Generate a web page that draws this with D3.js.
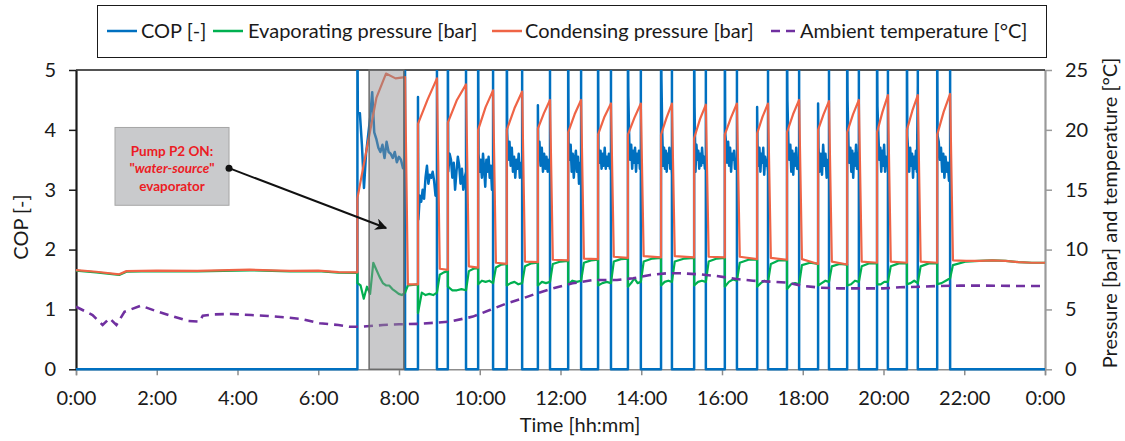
<!DOCTYPE html>
<html>
<head>
<meta charset="utf-8">
<script src="https://cdn.jsdelivr.net/npm/d3@7"></script>
<style>
    body { margin: 0; background: #ffffff; }
    text { font-family: Lato, "Open Sans", sans-serif; fill: #1a1a1a; }
</style>
</head>
<body>
<script>
var hourTicks = [0, 2, 4, 6, 8, 10, 12, 14, 16, 18, 20, 22, 24];
var hourLabels = ["0:00", "2:00", "4:00", "6:00", "8:00", "10:00", "12:00", "14:00", "16:00", "18:00", "20:00", "22:00", "0:00"];
var copTicks = [0, 1, 2, 3, 4, 5];
var pressureTicks = [0, 5, 10, 15, 20, 25];
var seriesNames = ["COP [-]", "Evaporating pressure [bar]", "Condensing pressure [bar]", "Ambient temperature [\u00b0C]"];

// heat pump standing still before the first start
var idleTimes = [0, 0.5, 1.07, 1.25, 2.0, 3.0, 4.3, 5.3, 6.0, 6.5, 6.97];
var idleCond = [8.29, 8.15, 7.93, 8.2, 8.25, 8.22, 8.32, 8.22, 8.25, 8.12, 8.1];
var idleEvap = [8.25, 8.1, 7.88, 8.15, 8.2, 8.18, 8.27, 8.18, 8.2, 8.08, 8.06];

// compressor runs [h]
var runStart = [6.97, 8.47, 9.21, 9.96, 10.67, 11.44, 12.19, 12.93, 13.67, 14.49, 15.31, 16.07, 16.87, 17.61, 18.38, 19.10, 19.84, 20.58, 21.33];
var runStop = [8.15, 8.94, 9.66, 10.33, 11.05, 11.74, 12.51, 13.25, 13.99, 14.76, 15.60, 16.37, 17.14, 17.91, 18.65, 19.39, 20.11, 20.85, 21.65];
// COP reached in the start transient (above 5 is off the chart)
var startPeak = [5.8, 4.55, 5.8, 5.8, 5.8, 4.41, 5.8, 5.8, 5.8, 5.8, 5.8, 5.8, 4.38, 5.8, 4.44, 5.8, 5.8, 5.8, 5.8];

// readings along each run (spread over the run)
var condRun = [
    [14.3, 18.5, 22.7, 24.7, 24.3, 24.4],
    [20.5, 22.5, 24.3], [20.6, 22.5, 23.8], [20.0, 21.9, 23.3], [20.0, 21.8, 23.2],
    [20.1, 21.4, 22.5], [19.8, 21.3, 22.5], [19.6, 21.1, 22.2], [19.6, 21.0, 22.2],
    [19.6, 21.0, 22.2], [19.3, 20.9, 22.1], [19.6, 21.0, 22.2], [19.7, 21.1, 22.2],
    [19.8, 21.3, 22.5], [20.0, 21.3, 22.4], [19.8, 21.3, 22.5], [19.8, 21.5, 22.9],
    [20.0, 21.6, 22.9], [19.6, 21.5, 23.0]
];
var evapRun = [
    [7.2, 7.0, 5.9, 6.9, 6.3, 8.9, 8.3, 7.7, 7.2, 7.0, 7.0, 6.7, 6.5, 6.3, 6.2, 6.4],
    [4.7, 6.4, 6.2, 6.3, 6.2, 6.4], [6.9, 6.6, 6.6, 6.7, 6.6], [7.1, 7.4, 7.3, 7.4, 7.2],
    [7.0, 7.2, 7.3, 7.1, 7.2], [7.0, 7.3, 7.2, 7.3], [7.1, 7.4, 7.3, 7.4], [7.0, 7.2, 7.3, 7.2],
    [6.9, 7.2, 7.6, 7.2, 7.3], [7.0, 7.3, 7.4, 7.3], [7.0, 7.3, 7.4, 7.3], [6.9, 7.3, 7.5, 7.4],
    [6.9, 7.2, 7.4, 7.3], [6.7, 7.1, 7.2, 7.1], [7.0, 7.2, 7.4, 7.3], [7.0, 7.1, 7.4, 7.3],
    [7.1, 7.1, 7.3, 7.3], [7.1, 7.2, 7.4, 7.2], [7.1, 7.2, 7.4, 7.6]
];
var copRun = [
    [4.3, 4.28, 3.75, 3.03, 3.6, 3.9, 4.2, 4.63, 3.96, 3.85, 3.7, 3.63, 3.75, 3.53, 3.8, 3.63, 3.6, 3.53, 3.63, 3.46, 3.55, 3.5, 3.36, 3.42],
    [2.5, 2.9, 2.8, 3.0, 2.85, 3.2, 3.4, 3.1, 3.25, 3.2, 3.3, 3.15, 2.9, 2.95],
    [3.3, 3.6, 3.5, 3.2, 3.45, 3.0, 3.3, 3.55, 3.4, 3.1, 3.35, 3.0, 3.2, 3.3],
    [3.6, 3.3, 3.5, 3.2, 3.6, 3.35, 3.05, 3.5, 3.3, 3.55, 3.2, 3.4, 3.0, 3.3],
    [3.95, 3.5, 3.8, 3.4, 3.7, 3.3, 3.55, 3.2, 3.5, 3.35, 3.6, 3.2, 3.45, 3.3],
    [3.6, 3.8, 3.4, 3.7, 3.3, 3.6, 3.35, 3.55, 3.3, 3.5, 3.4],
    [3.8, 3.5, 3.75, 3.3, 3.6, 3.2, 3.5, 3.65, 3.3, 3.55, 3.1, 3.45, 3.4],
    [3.7, 3.45, 3.65, 3.35, 3.6, 3.4, 3.7, 3.35, 3.55, 3.4, 3.6, 3.35, 3.5],
    [4.58, 3.8, 3.5, 3.75, 3.35, 3.65, 3.45, 3.7, 3.3, 3.6, 3.45, 3.65, 3.35, 3.55],
    [4.85, 3.9, 3.4, 3.7, 3.35, 3.65, 3.3, 3.6, 3.45, 3.7, 3.35, 3.55, 3.25],
    [4.4, 3.3, 3.75, 3.5, 3.65, 3.35, 3.6, 3.4, 3.7, 3.45, 3.55, 3.35, 3.5],
    [3.95, 3.75, 3.45, 3.8, 3.4, 3.7, 3.3, 3.6, 3.5, 3.65, 3.35, 3.5, 3.45],
    [3.75, 3.4, 3.7, 3.3, 3.6, 3.45, 3.7, 3.25, 3.55, 3.4, 3.5, 3.3],
    [4.5, 3.8, 3.5, 3.75, 3.3, 3.65, 3.25, 3.6, 3.4, 3.7, 3.35, 3.5, 3.3],
    [3.7, 3.3, 3.6, 3.25, 3.75, 3.4, 3.6, 3.2, 3.5, 3.35],
    [4.5, 3.75, 3.45, 3.7, 3.3, 3.65, 3.2, 3.6, 3.4, 3.75, 3.35, 3.5, 3.3],
    [4.4, 3.9, 3.5, 3.7, 3.3, 3.65, 3.4, 3.75, 3.3, 3.55, 3.4, 3.5],
    [3.9, 3.6, 3.3, 3.7, 3.4, 3.6, 3.2, 3.55, 3.35, 3.65, 3.3, 4.75],
    [3.9, 3.8, 3.5, 3.7, 3.3, 3.6, 3.2, 3.55, 3.3, 3.45, 3.15, 3.2]
];

// readings during the stop after each run (last one runs to midnight)
var condRest = [
    [7.1, 7.1], [8.4, 8.3], [8.6, 8.5], [8.9, 8.8], [9.0, 8.95], [9.15, 9.1], [9.25, 9.2],
    [9.4, 9.3], [9.45, 9.35], [9.45, 9.35], [9.4, 9.35], [9.4, 9.2], [9.3, 9.15], [9.2, 8.8],
    [9.0, 8.75], [9.0, 8.9], [9.0, 8.9], [9.0, 8.9],
    [9.1, 9.05, 9.05, 9.1, 9.05, 8.95, 8.9, 8.9]
];
var evapRest = [
    [7.0, 7.1], [7.9, 8.1, 8.2], [8.2, 8.4, 8.45], [8.5, 8.75, 8.8], [8.6, 8.85, 8.9],
    [8.8, 9.0, 9.05], [8.9, 9.1, 9.15], [9.0, 9.2, 9.25], [9.0, 9.25, 9.3], [9.0, 9.25, 9.3],
    [9.0, 9.25, 9.3], [8.9, 9.15, 9.15], [8.8, 9.1, 9.1], [8.7, 8.9, 8.8], [8.6, 8.8, 8.75],
    [8.6, 8.85, 8.85], [8.6, 8.85, 8.85], [8.6, 8.85, 8.85],
    [8.7, 9.0, 9.05, 9.1, 9.05, 8.95, 8.9, 8.9]
];

var ambTimes = [0, 0.41, 0.66, 0.83, 1.0, 1.2, 1.61, 1.98, 2.35, 2.77, 3.06, 3.14, 3.43, 3.84, 4.34, 4.76, 5.18, 5.59, 6.04, 6.5, 6.77, 7.1, 7.6, 8.0, 8.5, 9.26, 9.83, 10.25, 10.67, 11.07, 11.42, 11.8, 12.3, 12.8, 13.4, 13.8, 14.22, 14.63, 14.96, 15.46, 15.87, 16.36, 16.77, 17.19, 17.6, 18.01, 18.43, 18.92, 19.5, 20.0, 20.41, 20.9, 21.4, 21.9, 22.47, 23.3, 24];
var ambTemp = [5.23, 4.53, 3.7, 4.26, 3.7, 4.81, 5.31, 4.87, 4.48, 4.04, 3.98, 4.48, 4.59, 4.62, 4.53, 4.45, 4.34, 4.2, 3.84, 3.7, 3.56, 3.56, 3.7, 3.76, 3.8, 3.98, 4.4, 4.95, 5.51, 5.93, 6.35, 6.76, 7.18, 7.46, 7.46, 7.6, 7.88, 8.02, 8.02, 7.93, 7.79, 7.54, 7.4, 7.32, 7.24, 6.96, 6.82, 6.76, 6.76, 6.76, 6.85, 6.9, 6.96, 6.99, 6.99, 6.96, 6.96];

// pump P2 on, water-source evaporator [h]
var pumpWindow = [7.26, 8.12];
var noteLines = ["Pump P2 ON:", "water-source", "evaporator"];

var Chart;
(function (Chart) {
    var Application = (function () {
        function Application() {
            this.left = 76;
            this.right = 1045;
            this.top = 70;
            this.bottom = 369.3;
            this.x = d3.scaleLinear().domain([0, 24]).range([this.left, this.right]);
            this.yCop = d3.scaleLinear().domain([0, 5]).range([this.bottom, this.top]);
            this.yBar = d3.scaleLinear().domain([0, 25]).range([this.bottom, this.top]);
        }
        // values read along [t0, t1], placed at equal steps
        Application.prototype.spread = function (values, t0, t1) {
            var s = d3.scaleLinear().domain([0, Math.max(values.length - 1, 1)]).range([t0, t1]);
            return values.map(function (v, i) { return [s(i), v]; });
        };
        Application.prototype.buildPressure = function (idle, run, rest) {
            var self = this;
            var pts = idleTimes.map(function (t, i) { return [t, idle[i]]; });
            runStart.forEach(function (t0, i) {
                var t1 = runStop[i];
                var next = i + 1 < runStart.length ? runStart[i + 1] : 24;
                pts = pts.concat(self.spread(run[i], t0, t1));
                pts = pts.concat(self.spread(rest[i], t1 + 0.07, next));
            });
            return pts;
        };
        Application.prototype.buildCop = function () {
            var self = this;
            var pts = [[0, 0]];
            runStart.forEach(function (t0, i) {
                var t1 = runStop[i];
                pts.push([t0, 0], [t0, startPeak[i]]);
                pts = pts.concat(self.spread(copRun[i], t0 + 0.01, t1));
                pts.push([t1, 5.8], [t1, 0]);
            });
            pts.push([24, 0]);
            return pts;
        };
        Application.prototype.drawLegend = function (svg) {
            var items = [
                { x: 107, tx: 141, c: "#0070c0", dash: null },
                { x: 213, tx: 248, c: "#00b050", dash: null },
                { x: 492, tx: 525, c: "#ef6446", dash: null },
                { x: 771, tx: 800, c: "#7030a0", dash: "9,6" }
            ];
            svg.append("rect")
                .attr("x", 97.5)
                .attr("y", 5.5)
                .attr("width", 949)
                .attr("height", 52)
                .attr("fill", "#ffffff")
                .attr("stroke", "#1a1a1a")
                .attr("stroke-width", 1);
            items.forEach(function (d, i) {
                svg.append("line")
                    .attr("x1", d.x)
                    .attr("y1", 31)
                    .attr("x2", d.x + 30)
                    .attr("y2", 31)
                    .attr("stroke", d.c)
                    .attr("stroke-width", 2.5)
                    .attr("stroke-dasharray", d.dash);
                svg.append("text")
                    .attr("x", d.tx)
                    .attr("y", 31)
                    .attr("dy", "0.35em")
                    .attr("font-size", 20)
                    .text(seriesNames[i]);
            });
        };
        Application.prototype.drawAxes = function (svg) {
            var ax = svg.append("g")
                .attr("transform", "translate(0," + this.bottom + ")")
                .call(d3.axisBottom(this.x).tickValues(hourTicks)
                    .tickFormat(function (d, i) { return hourLabels[i]; })
                    .tickSize(6).tickPadding(16));
            ax.select(".domain").attr("stroke", "#8c8c8c").attr("stroke-width", 1.5);
            ax.selectAll(".tick line").attr("stroke", "#8c8c8c").attr("stroke-width", 1.5);
            var al = svg.append("g")
                .attr("transform", "translate(" + this.left + ",0)")
                .call(d3.axisLeft(this.yCop).tickValues(copTicks).tickFormat(d3.format("d"))
                    .tickSize(7).tickPadding(13).tickSizeOuter(0));
            al.select(".domain").attr("stroke", "#1a1a1a").attr("stroke-width", 2.2);
            al.selectAll(".tick line").attr("stroke", "#1a1a1a").attr("stroke-width", 1.5);
            var ar = svg.append("g")
                .attr("transform", "translate(" + this.right + ",0)")
                .call(d3.axisRight(this.yBar).tickValues(pressureTicks).tickFormat(d3.format("d"))
                    .tickSize(7).tickPadding(13).tickSizeOuter(0));
            ar.select(".domain").attr("stroke", "#9a9a9a").attr("stroke-width", 2.2);
            ar.selectAll(".tick line").attr("stroke", "#9a9a9a").attr("stroke-width", 1.5);
            svg.selectAll(".tick text")
                .attr("font-family", "Lato, 'Open Sans', sans-serif")
                .attr("font-size", 20)
                .attr("fill", "#1a1a1a");
            svg.append("line")
                .attr("x1", this.left)
                .attr("y1", this.top)
                .attr("x2", this.right)
                .attr("y2", this.top)
                .attr("stroke", "#1a1a1a")
                .attr("stroke-width", 1.5);
            svg.append("text")
                .attr("transform", "translate(28,227) rotate(-90)")
                .attr("text-anchor", "middle")
                .attr("font-size", 20)
                .text("COP [-]");
            svg.append("text")
                .attr("transform", "translate(1103,213) rotate(-90)")
                .attr("text-anchor", "middle")
                .attr("dy", "0.7em")
                .attr("font-size", 20)
                .text("Pressure [bar] and temperature [\u00b0C]");
            svg.append("text")
                .attr("x", 580)
                .attr("y", 432)
                .attr("text-anchor", "middle")
                .attr("font-size", 20)
                .text("Time [hh:mm]");
        };
        Application.prototype.drawNote = function (svg) {
            var x = this.x, y = this.yCop;
            var bx = x(0.966), by = y(4.04), bw = x(3.79) - x(0.966), bh = y(2.74) - y(4.04);
            svg.append("defs").append("marker")
                .attr("id", "tip")
                .attr("viewBox", "0 0 10 10")
                .attr("refX", 9)
                .attr("refY", 5)
                .attr("markerWidth", 6)
                .attr("markerHeight", 6)
                .attr("orient", "auto")
                .append("path")
                .attr("d", "M0,0 L10,5 L0,10 L3,5 Z")
                .attr("fill", "#111111");
            svg.append("rect")
                .attr("x", bx)
                .attr("y", by)
                .attr("width", bw)
                .attr("height", bh)
                .attr("fill", "#c9cacc")
                .attr("stroke", "#a6a6a6")
                .attr("stroke-width", 1);
            var t = svg.append("text")
                .attr("text-anchor", "middle")
                .attr("font-size", 13.5)
                .attr("font-weight", "bold")
                .style("fill", "#ec1c24");
            t.append("tspan").attr("x", bx + bw / 2).attr("y", by + 29).text(noteLines[0]);
            var t2 = t.append("tspan").attr("x", bx + bw / 2).attr("y", by + 46);
            t2.append("tspan").text("\"");
            t2.append("tspan").attr("font-style", "italic").text(noteLines[1]);
            t2.append("tspan").text("\"");
            t.append("tspan").attr("x", bx + bw / 2).attr("y", by + 64).text(noteLines[2]);
            svg.append("line")
                .attr("x1", bx + bw)
                .attr("y1", y(3.36))
                .attr("x2", x(7.68))
                .attr("y2", y(2.36))
                .attr("stroke", "#111111")
                .attr("stroke-width", 2)
                .attr("marker-end", "url(#tip)");
            svg.append("circle")
                .attr("cx", bx + bw)
                .attr("cy", y(3.36))
                .attr("r", 3.5)
                .attr("fill", "#111111");
        };
        Application.prototype.run = function () {
            var self = this;
            var svg = d3.select("body")
                .append("svg")
                .attr("width", 1125)
                .attr("height", 441);
            svg.append("clipPath")
                .attr("id", "plot")
                .append("rect")
                .attr("x", this.left)
                .attr("y", this.top)
                .attr("width", this.right - this.left)
                .attr("height", this.bottom - this.top + 3);
            this.drawAxes(svg);
            var g = svg.append("g").attr("clip-path", "url(#plot)");
            var lineBar = d3.line()
                .x(function (d) { return self.x(d[0]); })
                .y(function (d) { return self.yBar(d[1]); });
            var lineCop = d3.line()
                .x(function (d) { return self.x(d[0]); })
                .y(function (d) { return self.yCop(d[1]); });
            var amb = ambTimes.map(function (t, i) { return [t, ambTemp[i]]; });
            g.append("path")
                .attr("d", lineCop(this.buildCop()))
                .attr("fill", "none")
                .attr("stroke", "#0070c0")
                .attr("stroke-width", 2.5)
                .attr("stroke-linejoin", "round");
            g.append("path")
                .attr("d", lineBar(this.buildPressure(idleEvap, evapRun, evapRest)))
                .attr("fill", "none")
                .attr("stroke", "#00b050")
                .attr("stroke-width", 2.2)
                .attr("stroke-linejoin", "round");
            g.append("path")
                .attr("d", lineBar(this.buildPressure(idleCond, condRun, condRest)))
                .attr("fill", "none")
                .attr("stroke", "#ef6446")
                .attr("stroke-width", 2.2)
                .attr("stroke-linejoin", "round");
            g.append("path")
                .attr("d", lineBar(amb))
                .attr("fill", "none")
                .attr("stroke", "#7030a0")
                .attr("stroke-width", 2.6)
                .attr("stroke-dasharray", "9,6");
            // pump P2 period, semi-transparent box over the lines
            svg.append("rect")
                .attr("x", this.x(pumpWindow[0]))
                .attr("y", this.top)
                .attr("width", this.x(pumpWindow[1]) - this.x(pumpWindow[0]))
                .attr("height", this.bottom - this.top)
                .attr("fill", "#8e8f92")
                .attr("fill-opacity", 0.48)
                .attr("stroke", "#6b6b6b")
                .attr("stroke-width", 1.5);
            this.drawNote(svg);
            this.drawLegend(svg);
        };
        return Application;
    }());
    Chart.Application = Application;
})(Chart || (Chart = {}));
var app = new Chart.Application();
app.run();
</script>
</body>
</html>
